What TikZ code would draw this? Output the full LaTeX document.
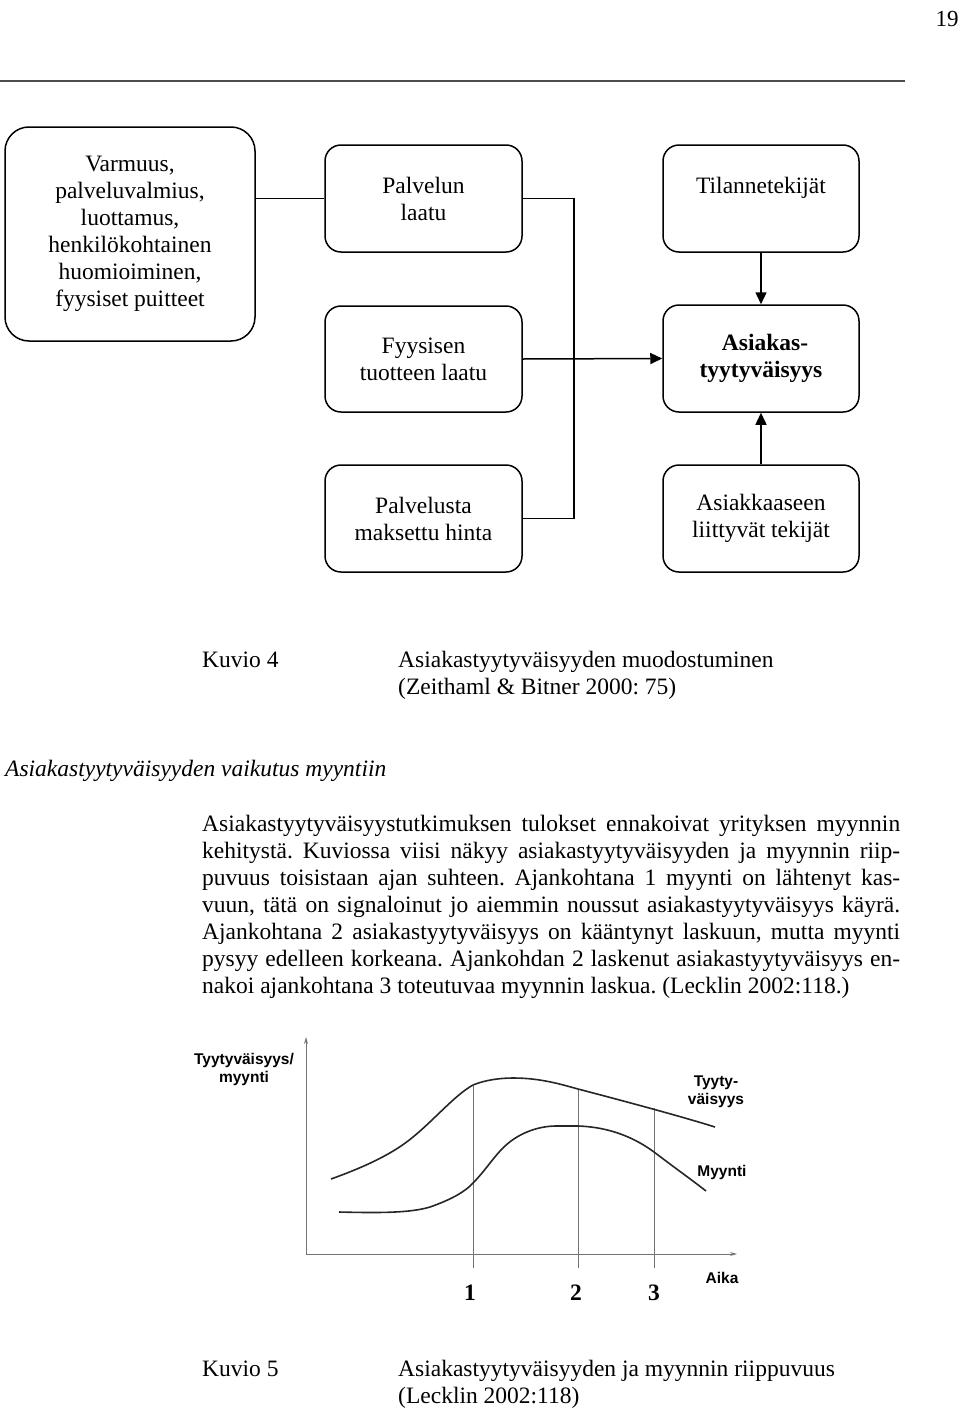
\documentclass[tikz,border=0pt]{standalone}
\usepackage{fontspec}
\setmainfont{Liberation Serif}
\setsansfont{Liberation Sans}
\usetikzlibrary{arrows.meta}
\frenchspacing
\begin{document}
\begin{tikzpicture}[x=1pt,y=-1pt,
  box/.style={draw, line width=1.5pt, rounded corners=16pt, align=center,
    font=\fontsize{23.5}{27}\selectfont, inner sep=0pt},
  conn/.style={line width=1.5pt},
  arr/.style={line width=1.5pt, -{Triangle[length=12pt,width=11pt]}},
  txt/.style={font=\fontsize{23.5}{27}\selectfont, inner sep=0pt, anchor=base west},
  chl/.style={font=\sffamily\bfseries\fontsize{15.5}{18}\selectfont, inner sep=0pt, align=center},
  axis/.style={draw=black!55, line width=0.9pt},
  curve/.style={line width=1.6pt, black!85}]
\useasboundingbox (0,0) rectangle (960,1408);
% header
\node[font=\fontsize{23}{24}\selectfont, inner sep=0pt, anchor=base] (pg) at (947,26) {19};
\coordinate (hl1) at (0,81);
\coordinate (hl2) at (905,81);
\draw[line width=1.6pt, black!70] (hl1) -- (hl2);
% boxes
\node[box, rounded corners=24pt, minimum width=250pt, minimum height=214pt] (varm) at (130,234)
  {Varmuus,\\palveluvalmius,\\luottamus,\\henkilökohtainen\\huomioiminen,\\fyysiset puitteet};
\node[box, minimum width=197pt, minimum height=107pt] (palv) at (423.5,198.5) {Palvelun\\laatu};
\node[box, minimum width=197pt, minimum height=106pt] (fyys) at (423.5,359) {Fyysisen\\tuotteen laatu};
\node[box, minimum width=197pt, minimum height=107pt] (hinta) at (423.5,518.5) {Palvelusta\\maksettu hinta};
\node[box, minimum width=196pt, minimum height=107pt] (tilanne) at (761,198.5) {Tilannetekijät\\\mbox{}};
\node[box, minimum width=196pt, minimum height=107pt, font=\bfseries\fontsize{23.5}{27}\selectfont] (asiak) at (761,358.5) {\hspace*{8pt}Asiakas-\\tyytyväisyys};
\node[box, minimum width=196pt, minimum height=107pt] (asiakk) at (761,518.5) {Asiakkaaseen\\liittyvät tekijät};
% connectors
\coordinate (j) at (574,0);
\draw[conn] (palv.west) -- (palv.west -| varm.east);
\draw[conn] (palv.east) -- (palv.east -| j) -- (hinta.east -| j) -- (hinta.east);
\draw[arr] (fyys.east) -- (asiak.west);
\draw[arr] (tilanne.south) -- (asiak.north);
\draw[arr] (asiakk.north) -- (asiak.south);
% caption 4
\node[txt] (k4) at (202,667) {Kuvio 4};
\node[txt] (k4a) at (398,667) {Asiakastyytyväisyyden muodostuminen};
\node[txt] (k4b) at (398,694) {(Zeithaml \& Bitner 2000: 75)};
% heading
\node[txt, font=\itshape\fontsize{23.5}{27}\selectfont] (hd) at (5,776) {Asiakastyytyväisyyden vaikutus myyntiin};
% paragraph
\node[txt] (p1) at (202,831) {\makebox[698pt][s]{Asiakastyytyväisyystutkimuksen tulokset ennakoivat yrityksen myynnin}};
\node[txt] (p2) at (202,858) {\makebox[698pt][s]{kehitystä. Kuviossa viisi näkyy asiakastyytyväisyyden ja myynnin riip-}};
\node[txt] (p3) at (202,885) {\makebox[698pt][s]{puvuus toisistaan ajan suhteen. Ajankohtana 1 myynti on lähtenyt kas-}};
\node[txt] (p4) at (202,912) {\makebox[698pt][s]{vuun, tätä on signaloinut jo aiemmin noussut asiakastyytyväisyys käyrä.}};
\node[txt] (p5) at (202,939) {\makebox[698pt][s]{Ajankohtana 2 asiakastyytyväisyys on kääntynyt laskuun, mutta myynti}};
\node[txt] (p6) at (202,966) {\makebox[698pt][s]{pysyy edelleen korkeana. Ajankohdan 2 laskenut asiakastyytyväisyys en-}};
\node[txt] (p7) at (202,993) {nakoi ajankohtana 3 toteutuvaa myynnin laskua. (Lecklin 2002:118.)};
% chart
\coordinate (o) at (306,1254);
\coordinate (ytop) at (306,1037);
\coordinate (xend) at (737,1254);
\draw[axis, -{Stealth[length=7pt,width=4pt]}] (o) -- (ytop);
\draw[axis, -{Stealth[length=7pt,width=4pt]}] (o) -- (xend);
\draw[axis] (473,1086) -- (473,1268);
\draw[axis] (578,1089) -- (578,1268);
\draw[axis] (654,1108) -- (654,1268);
\draw[curve] (331,1179) .. controls (370,1165) and (395,1152) .. (413,1137)
  .. controls (435,1119) and (455,1095) .. (473,1085)
  .. controls (485,1080) and (500,1078) .. (513,1078)
  .. controls (540,1078) and (560,1084) .. (578,1089)
  .. controls (620,1100) and (680,1116) .. (715,1127);
\draw[curve] (339,1212) .. controls (380,1213) and (410,1213) .. (430,1207)
  .. controls (450,1200) and (465,1192) .. (473,1183)
  .. controls (485,1171) and (495,1155) .. (505,1146)
  .. controls (520,1132) and (540,1126) .. (556,1126)
  -- (578,1126)
  .. controls (610,1127) and (635,1138) .. (654,1152)
  .. controls (675,1168) and (692,1180) .. (706,1191);
\node[chl] (yl) at (244,1069) {Tyytyväisyys/\\myynti};
\node[chl] (tl) at (716,1092) {Tyyty-\\väisyys};
\node[chl] (ml) at (722,1172) {Myynti};
\node[chl] (al) at (722,1278) {Aika};
\node[font=\bfseries\fontsize{23.5}{27}\selectfont, inner sep=0pt, anchor=base] (n1) at (470,1300) {1};
\node[font=\bfseries\fontsize{23.5}{27}\selectfont, inner sep=0pt, anchor=base] (n2) at (576,1300) {2};
\node[font=\bfseries\fontsize{23.5}{27}\selectfont, inner sep=0pt, anchor=base] (n3) at (654,1300) {3};
% caption 5
\node[txt] (k5) at (202,1376) {Kuvio 5};
\node[txt] (k5a) at (398,1376) {Asiakastyytyväisyyden ja myynnin riippuvuus};
\node[txt] (k5b) at (398,1403) {(Lecklin 2002:118)};
\end{tikzpicture}
\end{document}
